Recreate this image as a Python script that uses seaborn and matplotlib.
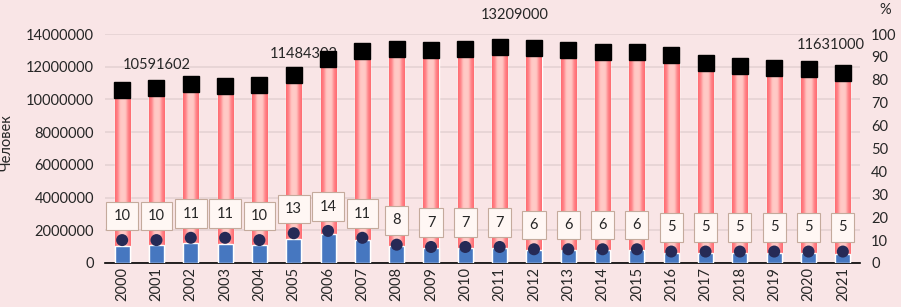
import numpy as np
import pandas as pd
import matplotlib
matplotlib.use("Agg")
import matplotlib.pyplot as plt
import seaborn as sns
from matplotlib.colors import LinearSegmentedColormap

years = [str(y) for y in range(2000, 2022)]
totals = [10591602, 10700000, 10970000, 10820000, 10910000, 11484303, 12480000,
          12990000, 13080000, 13050000, 13080000, 13209000, 13130000, 13050000,
          12890000, 12890000, 12720000, 12230000, 12070000, 11920000, 11830000, 11631000]
blue_part = [1060000, 1070000, 1210000, 1190000, 1090000, 1490000, 1750000,
             1430000, 1050000, 910000, 920000, 920000, 790000, 780000,
             770000, 770000, 640000, 610000, 600000, 600000, 590000, 580000]
percent = [10, 10, 11, 11, 10, 13, 14, 11, 8, 7, 7, 7, 6, 6, 6, 6, 5, 5, 5, 5, 5, 5]
labelled = {0: "10591602", 5: "11484303", 11: "13209000", 21: "11631000"}
label_offsets = {0: (25, 18), 5: (7, 15), 11: (11, 23), 21: (-9, 20)}

df = pd.DataFrame({"year": years, "total": totals, "blue": blue_part, "pct": percent})

sns.set_theme(style="white")
plt.rcParams["font.family"] = ["Lato", "DejaVu Sans"]
bg = "#F9E5E6"
fig = plt.figure(figsize=(9.01, 3.07), dpi=100, facecolor=bg)
ax = fig.add_axes([105/901, 44/307, 755/901, 229/307])
ax.set_facecolor(bg)

sns.barplot(data=df, x="year", y="total", color="#FF6A70", width=0.44,
            ax=ax, zorder=2, saturation=1)
pink = list(ax.patches)
sns.barplot(data=df, x="year", y="blue", color="#4677C0", width=0.44,
            ax=ax, zorder=3, saturation=1)

cmap = LinearSegmentedColormap.from_list(
    "pk", ["#FF6A70", "#FF858A", "#FFC6C3", "#FFCBC7", "#FFC6C3", "#FF858A", "#FF6A70"])
grad = np.linspace(0, 1, 64).reshape(1, -1)
for p in pink:
    x0, y0, w, h = p.get_x(), p.get_y(), p.get_width(), p.get_height()
    im = ax.imshow(grad, cmap=cmap, aspect="auto", extent=[x0, x0 + w, y0, y0 + h],
                   zorder=2.1, interpolation="bicubic")
    im.set_clip_path(p)

ax.plot(range(len(years)), totals, ls="none", marker="s", ms=11.5,
        color="black", zorder=6)

ax.set_xlim(-0.5, len(years) - 0.5)
ax.set_ylim(0, 14000000)
ax.set_yticks(range(0, 14000001, 2000000))
ax.set_yticklabels([str(v) for v in range(0, 14000001, 2000000)])
ax.yaxis.grid(True, color="#E5D2D3", lw=1.2, zorder=0)
ax.set_axisbelow(True)
ax.set_xlabel("")
ax.set_ylabel("Человек", fontsize=10.5)
ax.yaxis.set_label_coords(-0.121, 0.528)
ax.tick_params(axis="x", rotation=90, labelsize=10.5, length=0, pad=3)
ax.tick_params(axis="y", labelsize=10.5, length=0, pad=8)
for s in ["top", "right", "left"]:
    ax.spines[s].set_visible(False)
ax.spines["bottom"].set_color("black")
ax.spines["bottom"].set_linewidth(1.2)

for i, txt in labelled.items():
    ax.annotate(txt, xy=(i, totals[i]), xytext=label_offsets[i], textcoords="offset points",
                ha="center", va="center", fontsize=10.5, zorder=5)

ax2 = ax.twinx()
ax2.set_ylim(0, 100)
ax2.set_yticks(range(0, 101, 10))
ax2.tick_params(axis="y", labelsize=10.5, length=0, pad=8)
for s in ["top", "right", "left", "bottom"]:
    ax2.spines[s].set_visible(False)
sns.scatterplot(x=np.arange(len(years)), y=percent, ax=ax2, s=75, color="#262A56",
                edgecolor="none", zorder=7, legend=False)
ax2.set_xlim(-0.5, len(years) - 0.5)
for i, v in enumerate(percent):
    ax2.annotate(str(v), xy=(i, v), xytext=(0, 17.5), textcoords="offset points",
                 ha="center", va="center", fontsize=10.5, zorder=8,
                 bbox=dict(boxstyle="square,pad=0.5", fc="#FFF7F4", ec="#C4AA9C", lw=0.8))
ax2.set_ylabel("")
fig.text(885/901, 1 - 10/307, "%", ha="center", va="center", fontsize=10.5)

fig.savefig("out.png", dpi=100, facecolor=bg)
